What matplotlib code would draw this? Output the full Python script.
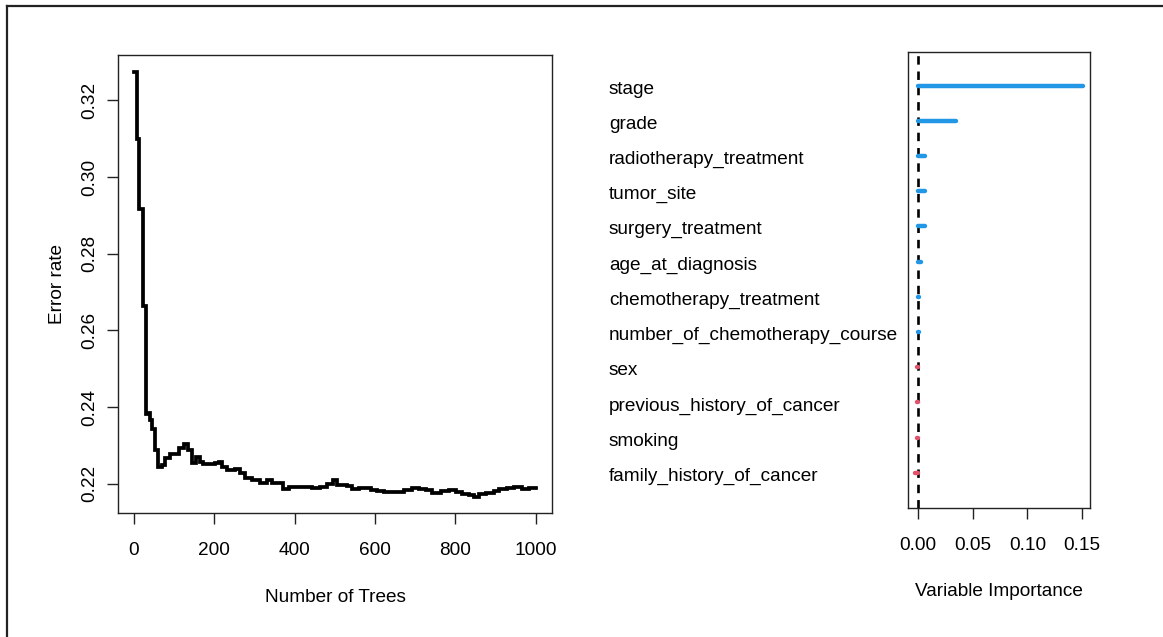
import matplotlib
matplotlib.use("Agg")
import matplotlib.pyplot as plt
from matplotlib.lines import Line2D
from matplotlib.transforms import blended_transform_factory, offset_copy

plt.rcParams["font.family"] = ["Liberation Sans", "DejaVu Sans"]

# OOB error rate as the forest grows (value holds until the next listed tree count)
n_trees = [1, 9, 12, 22, 30, 32, 40, 46, 52, 61, 70, 79, 90, 102, 112, 126, 134,
           144, 155, 165, 173, 202, 212, 220, 231, 252, 264, 277, 293, 314, 331,
           343, 356, 372, 385, 406, 422, 443, 464, 481, 495, 505, 518, 530, 543,
           560, 576, 589, 605, 622, 643, 659, 672, 692, 709, 726, 742, 763, 784,
           801, 817, 834, 846, 859, 875, 896, 908, 929, 946, 966, 983, 1000]
error_rate = [0.3274, 0.3098, 0.2916, 0.2664, 0.2381, 0.2385, 0.2367, 0.2343,
              0.2287, 0.2244, 0.2250, 0.2267, 0.2278, 0.2277, 0.2293, 0.2304,
              0.2289, 0.2254, 0.2271, 0.2258, 0.2253, 0.2255, 0.2258, 0.2244,
              0.2235, 0.2238, 0.2228, 0.2215, 0.2211, 0.2203, 0.2211, 0.2203,
              0.2202, 0.2186, 0.2193, 0.2191, 0.2193, 0.2189, 0.2193, 0.2200,
              0.2209, 0.2197, 0.2198, 0.2194, 0.2187, 0.2188, 0.2188, 0.2184,
              0.2182, 0.2178, 0.2179, 0.2178, 0.2184, 0.2188, 0.2187, 0.2184,
              0.2177, 0.2181, 0.2184, 0.2180, 0.2174, 0.2171, 0.2167, 0.2174,
              0.2177, 0.2181, 0.2186, 0.2188, 0.2193, 0.2187, 0.2190, 0.2190]
err_xticks = [0, 200, 400, 600, 800, 1000]
err_yticks = [0.22, 0.24, 0.26, 0.28, 0.30, 0.32]

# Variable importance (top to bottom)
variables = ["stage", "grade", "radiotherapy_treatment", "tumor_site",
             "surgery_treatment", "age_at_diagnosis", "chemotherapy_treatment",
             "number_of_chemotherapy_course", "sex", "previous_history_of_cancer",
             "smoking", "family_history_of_cancer"]
importance = [0.1510, 0.0345, 0.0067, 0.0066, 0.0066, 0.0030, 0.0012, 0.0008,
              -0.0006, -0.0007, -0.0009, -0.0024]
vimp_xticks = [0.00, 0.05, 0.10, 0.15]

W, H = 1163, 637
fig = plt.figure(figsize=(W / 100, H / 100), dpi=100)
fig.patch.set_facecolor("white")

FS = 13.7
edge = "#222222"

def fx(px):
    return px / W

def fy(py):
    return 1 - py / H

# ---- left panel: error rate ----
ax1 = fig.add_axes([fx(118), fy(513), fx(552) - fx(118), fy(55) - fy(513)])
ax1.plot(n_trees, error_rate, drawstyle="steps-post", color="black", lw=2.7,
         solid_joinstyle="miter")
ax1.set_xlim(-39, 1040)
ax1.set_ylim(0.2124, 0.3318)
ax1.set_xticks(err_xticks)
ax1.set_xticklabels([str(v) for v in err_xticks])
ax1.set_yticks(err_yticks)
ax1.set_yticklabels([f"{v:.2f}" for v in err_yticks], rotation=90, va="center")
ax1.set_xlabel("Number of Trees", fontsize=FS)
ax1.set_ylabel("Error rate", fontsize=FS)
ax1.xaxis.set_label_coords(0.5, -(597 - 513) / 458)
ax1.xaxis.label.set_va("center")
ax1.yaxis.set_label_coords((57 - 118) / 434, 0.5)
ax1.yaxis.label.set(va="center", ha="center")

# ---- right panel: variable importance ----
ax2 = fig.add_axes([fx(908), fy(508), fx(1090) - fx(908), fy(52) - fy(508)])
ax2.axvline(0, color="black", lw=1.9, ls=(0, (3.2, 2.6)), zorder=1)
rows = list(range(len(variables)))
for r, v in zip(rows, importance):
    col = "#2297E6" if v > 0 else "#DF536B"
    ax2.plot([0, v], [r, r], color=col, lw=3.2, solid_capstyle="round", zorder=2)
ax2.set_xlim(-0.0092, 0.1573)
ax2.set_ylim(12.0, -0.957)
ax2.set_yticks([])
ax2.set_xticks(vimp_xticks)
ax2.set_xticklabels([f"{v:.2f}" for v in vimp_xticks])
ax2.set_xlabel("Variable Importance", fontsize=FS)
ax2.xaxis.set_label_coords(0.5, -(591 - 508) / 456)
ax2.xaxis.label.set_va("center")

trans = offset_copy(blended_transform_factory(fig.transFigure, ax2.transData),
                    fig=fig, x=0, y=-3.5, units="dots")
for r, name in zip(rows, variables):
    ax2.text(fx(609), r, name, transform=trans, ha="left", va="center",
             fontsize=FS, color="black", clip_on=False)

for ax in (ax1, ax2):
    for s in ax.spines.values():
        s.set_color(edge)
        s.set_linewidth(1.0)
    ax.tick_params(direction="out", length=8, width=1.0, color=edge,
                   labelsize=FS, pad=13)
ax1.tick_params(axis="y", pad=6)

# outer frame
fig.add_artist(Line2D([fx(7), fx(7)], [fy(6), -0.1], color=edge, lw=1.6,
                      transform=fig.transFigure))
fig.add_artist(Line2D([fx(7), 1.1], [fy(6), fy(6)], color=edge, lw=1.6,
                      transform=fig.transFigure))

fig.savefig("out.png", dpi=100)
